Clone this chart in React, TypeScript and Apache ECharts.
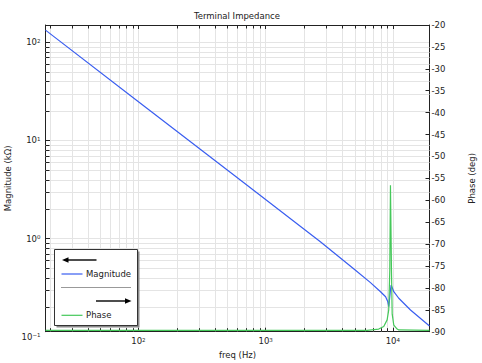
import React, { useEffect, useRef } from 'react';
import * as echarts from 'echarts';

// ---- data ----
const freqMag = [18.6, 100, 632, 2692, 5000, 6670, 8000, 8770, 9130, 9290, 9575, 9700, 10170, 11130, 13760, 19410];
const magnitude = [133, 24.8, 3.95, 0.93, 0.485, 0.356, 0.288, 0.256, 0.227, 0.203, 0.3, 0.337, 0.288, 0.247, 0.1875, 0.129];
const freqPhase = [18.6, 6280, 7740, 8480, 9015, 9282, 9460, 9575, 9750, 9880, 10170, 10810, 11130, 19410];
const phase = [-89.7, -89.7, -89.4, -88.8, -87.3, -85, -75.9, -56.6, -75.9, -86, -88.5, -89.4, -89.6, -89.7];
const xMinorValues = [20, 30, 40, 50, 60, 70, 80, 90, 200, 300, 400, 500, 600, 700, 800, 900, 2000, 3000, 4000, 5000, 6000, 7000, 8000, 9000];
const yMinorValues = [0.2, 0.3, 0.4, 0.5, 0.6, 0.7, 0.8, 0.9, 2, 3, 4, 5, 6, 7, 8, 9, 20, 30, 40, 50, 60, 70, 80, 90];
const freqRange = [18.6, 19410];
const magRange = [0.1127, 150];
const phaseRange = [-90, -20];
const phaseStep = 5;
const bottomDecadeLabel = 0.1;

const FONT = 'DejaVu Sans';
const BLUE = '#3a5ef0';
const GREEN = '#45c85a';
const GRID = '#e4e4e4';
const AXIS = '#222';

const expLabel = (v: number) => {
  const e = Math.log10(v);
  const r = Math.round(e);
  if (Math.abs(e - r) > 1e-6) return '';
  return '10{sup|' + (r < 0 ? '\u2212' + -r : r) + '}';
};

const supRich = { sup: { fontSize: 5.5, verticalAlign: 'top', fontFamily: FONT, color: AXIS } };

export default function App() {
  const ref = useRef<HTMLDivElement>(null);
  useEffect(() => {
    document.body.style.margin = '0';
    const chart = echarts.init(ref.current!, undefined, { renderer: 'svg' });
    const option: any = {
      animation: false,
      backgroundColor: '#fff',
      textStyle: { fontFamily: FONT },
      title: {
        text: 'Terminal Impedance',
        left: 189,
        top: 6,
        textStyle: { fontSize: 8.5, fontWeight: 'normal', color: AXIS, fontFamily: FONT },
      },
      grid: { left: 45.5, right: 52.5, top: 25, bottom: 31.3, outerBoundsMode: 'none' },
      xAxis: [
        {
          type: 'log',
          logBase: 10,
          min: freqRange[0],
          max: freqRange[1],
          position: 'bottom',
          name: 'freq (Hz)',
          nameLocation: 'middle',
          nameGap: 17,
          nameTextStyle: { fontSize: 8.5, color: AXIS, fontFamily: FONT },
          axisLine: { show: true, onZero: false, lineStyle: { color: AXIS, width: 1 } },
          axisTick: { show: true, inside: true, length: 4, lineStyle: { color: AXIS } },
          axisLabel: { fontSize: 8.5, color: AXIS, margin: 5, formatter: expLabel, rich: supRich, showMinLabel: true, showMaxLabel: true },
          splitLine: { show: true, lineStyle: { color: GRID, width: 1 } },
          minorTick: { show: false },
        },
        {
          type: 'log',
          logBase: 10,
          min: freqRange[0],
          max: freqRange[1],
          position: 'top',
          axisLine: { show: true, onZero: false, lineStyle: { color: AXIS, width: 1 } },
          axisTick: { show: true, inside: true, length: 4, lineStyle: { color: AXIS } },
          axisLabel: { show: false },
          splitLine: { show: false },
        },
      ],
      yAxis: [
        {
          type: 'log',
          logBase: 10,
          min: magRange[0],
          max: magRange[1],
          position: 'left',
          name: 'Magnitude (k\u03a9)',
          nameLocation: 'middle',
          nameRotate: 90,
          nameGap: 33,
          nameTextStyle: { fontSize: 8.5, color: AXIS, fontFamily: FONT },
          axisLine: { show: true, lineStyle: { color: AXIS, width: 1 } },
          axisTick: { show: true, inside: true, length: 5, lineStyle: { color: AXIS } },
          axisLabel: { fontSize: 8.5, color: AXIS, margin: 5, formatter: expLabel, rich: supRich },
          splitLine: { show: true, lineStyle: { color: GRID, width: 1 } },
        },
        {
          type: 'value',
          min: phaseRange[0],
          max: phaseRange[1],
          interval: phaseStep,
          position: 'right',
          name: 'Phase (deg)',
          nameLocation: 'middle',
          nameRotate: 90,
          nameGap: 38,
          nameTextStyle: { fontSize: 8.5, color: AXIS, fontFamily: FONT },
          axisLine: { show: true, onZero: false, lineStyle: { color: AXIS, width: 1 } },
          axisTick: { show: true, inside: true, length: 4, lineStyle: { color: AXIS } },
          axisLabel: { fontSize: 8.5, color: AXIS, margin: 2 },
          splitLine: { show: false },
        },
      ],
      series: [
        {
          type: 'custom',
          name: 'xminor',
          xAxisIndex: 0,
          yAxisIndex: 0,
          z: 1,
          silent: true,
          data: xMinorValues.map((v) => [v, 1]),
          renderItem: (params: any, api: any) => {
            const p = api.coord([api.value(0), 1]);
            const cs = params.coordSys;
            const x = Math.round(p[0]) + 0.5;
            const b = cs.y + cs.height;
            return {
              type: 'group',
              children: [
                { type: 'line', shape: { x1: x, y1: cs.y, x2: x, y2: b }, style: { stroke: GRID, lineWidth: 1 } },
                { type: 'line', shape: { x1: x, y1: b, x2: x, y2: b - 3.5 }, style: { stroke: AXIS, lineWidth: 1 } },
                { type: 'line', shape: { x1: x, y1: cs.y, x2: x, y2: cs.y + 3.5 }, style: { stroke: AXIS, lineWidth: 1 } },
              ],
            };
          },
        },
        {
          type: 'custom',
          name: 'yminor',
          xAxisIndex: 0,
          yAxisIndex: 0,
          z: 1,
          silent: true,
          data: yMinorValues.map((v) => [100, v]),
          renderItem: (params: any, api: any) => {
            const p = api.coord([100, api.value(1)]);
            const cs = params.coordSys;
            const y = Math.round(p[1]) + 0.5;
            return {
              type: 'group',
              children: [
                { type: 'line', shape: { x1: cs.x, y1: y, x2: cs.x + cs.width, y2: y }, style: { stroke: GRID, lineWidth: 1 } },
                { type: 'line', shape: { x1: cs.x, y1: y, x2: cs.x + 4, y2: y }, style: { stroke: AXIS, lineWidth: 1 } },
              ],
            };
          },
        },
        {
          type: 'line',
          name: 'Magnitude',
          xAxisIndex: 0,
          yAxisIndex: 0,
          z: 3,
          showSymbol: false,
          symbol: 'none',
          lineStyle: { color: BLUE, width: 1.2 },
          data: freqMag.map((f, i) => [f, magnitude[i]]),
        },
        {
          type: 'line',
          name: 'Phase',
          xAxisIndex: 0,
          yAxisIndex: 1,
          z: 4,
          showSymbol: false,
          symbol: 'none',
          lineStyle: { color: GREEN, width: 1.2 },
          data: freqPhase.map((f, i) => [f, phase[i]]),
        },
      ],
    };
    chart.setOption(option);

    const lblY = chart.convertToPixel({ yAxisIndex: 0 }, bottomDecadeLabel) as number;
    const gridLeft = chart.convertToPixel({ xAxisIndex: 0 }, freqRange[0]) as number;

    const legendX = 54.5;
    const legendY = 249.5;
    const Z = 100;
    chart.setOption({
      graphic: [
        {
          type: 'text',
          x: gridLeft - 5,
          y: lblY,
          z: Z,
          style: {
            text: expLabel(bottomDecadeLabel),
            align: 'right',
            verticalAlign: 'middle',
            fontSize: 8.5,
            fontFamily: FONT,
            fill: AXIS,
            rich: supRich,
          },
        },
        {
          type: 'group',
          x: legendX,
          y: legendY,
          children: [
            { type: 'rect', z: Z, shape: { x: 2, y: 2, width: 83, height: 76 }, style: { fill: '#8a8a8a' } },
            { type: 'rect', z: Z + 1, shape: { x: 0, y: 0, width: 83, height: 76 }, style: { fill: '#fff', stroke: '#333', lineWidth: 1 } },
            { type: 'line', z: Z + 2, shape: { x1: 13, y1: 10.5, x2: 42, y2: 10.5 }, style: { stroke: '#000', lineWidth: 1.4 } },
            { type: 'polygon', z: Z + 2, shape: { points: [[7.5, 10.5], [14, 7.8], [14, 13.2]] }, style: { fill: '#000' } },
            { type: 'line', z: Z + 2, shape: { x1: 7, y1: 24.5, x2: 28, y2: 24.5 }, style: { stroke: BLUE, lineWidth: 1.2 } },
            { type: 'text', z: Z + 2, x: 31.5, y: 24.5, style: { text: 'Magnitude', fontSize: 8.5, fontFamily: FONT, fill: AXIS, verticalAlign: 'middle' } },
            { type: 'line', z: Z + 2, shape: { x1: 7, y1: 38, x2: 77, y2: 38 }, style: { stroke: '#333', lineWidth: 1, lineDash: [1, 1] } },
            { type: 'line', z: Z + 2, shape: { x1: 41.5, y1: 51.5, x2: 71, y2: 51.5 }, style: { stroke: '#000', lineWidth: 1.4 } },
            { type: 'polygon', z: Z + 2, shape: { points: [[77, 51.5], [70.5, 48.8], [70.5, 54.2]] }, style: { fill: '#000' } },
            { type: 'line', z: Z + 2, shape: { x1: 7, y1: 65.8, x2: 28, y2: 65.8 }, style: { stroke: GREEN, lineWidth: 1.2 } },
            { type: 'text', z: Z + 2, x: 31.5, y: 65.8, style: { text: 'Phase', fontSize: 8.5, fontFamily: FONT, fill: AXIS, verticalAlign: 'middle' } },
          ],
        },
      ],
    });

    return () => chart.dispose();
  }, []);
  return <div ref={ref} style={{ width: 482, height: 363 }} />;
}
